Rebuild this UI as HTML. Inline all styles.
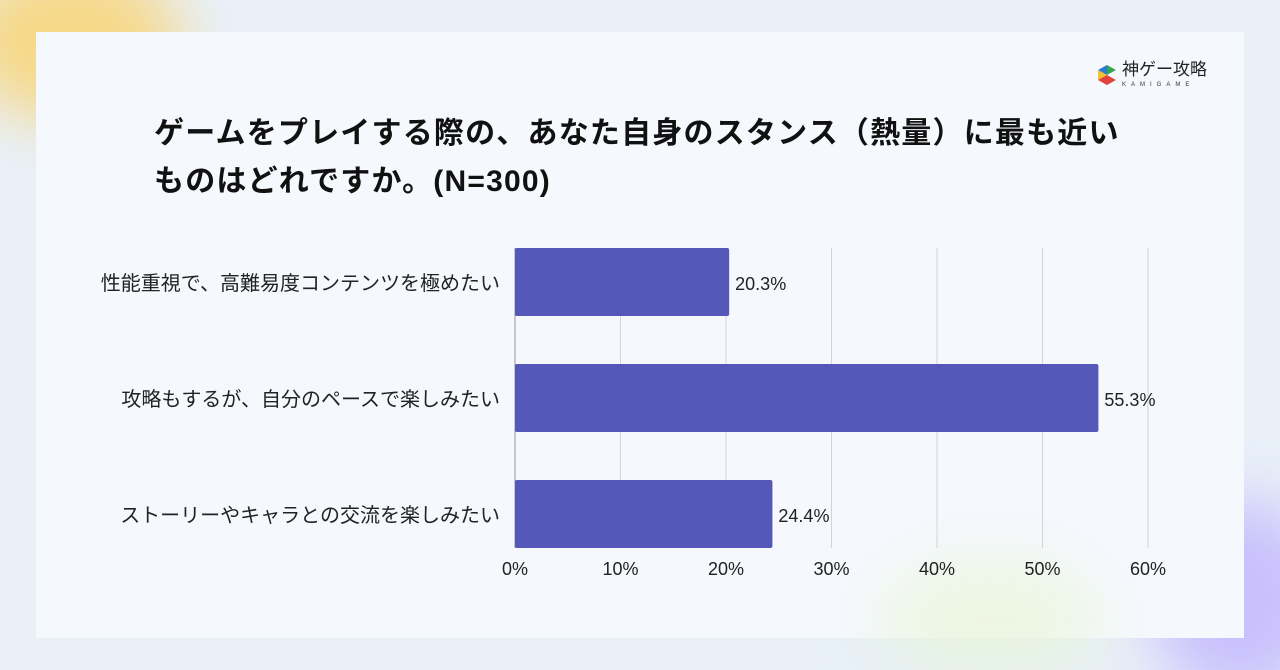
<!DOCTYPE html>
<html><head><meta charset="utf-8"><style>
html,body{margin:0;width:1280px;height:670px;overflow:hidden}
body{background:#e9f0f8;font-family:"Liberation Sans","Noto Sans CJK JP",sans-serif;position:relative}
.blob{position:absolute;border-radius:50%;filter:blur(30px)}
#card{position:absolute;left:36px;top:32px;width:1208px;height:606px;background:#f5f8fd}
#title{position:absolute;left:154px;top:110px;font-size:30px;letter-spacing:1.2px;font-weight:bold;color:#111;line-height:48px;white-space:nowrap}
</style></head><body>
<div class="blob" style="left:-40px;top:-40px;width:220px;height:160px;background:rgba(255,200,60,0.6)"></div>
<div class="blob" style="left:1150px;top:500px;width:180px;height:200px;background:rgba(180,160,255,0.6)"></div>
<div id="card"></div>
<div class="blob" style="left:880px;top:560px;width:220px;height:120px;background:rgba(230,245,200,0.5)"></div>
<div style="position:absolute;left:1098px;top:62px;width:120px;height:30px">
<svg width="18" height="20" style="position:absolute;left:0;top:3px"><polygon points="9,0 18,5 9,10" fill="#2fa84f"/><polygon points="9,0 0,5 9,10" fill="#2b7bd6"/><polygon points="0,5 9,10 0,15" fill="#f2c12e"/><polygon points="9,10 18,15 9,20 0,15" fill="#e0443c"/></svg>
<div style="position:absolute;left:24px;top:-2px;font-size:17px;line-height:20px;color:#222;white-space:nowrap">神ゲー攻略</div>
<div style="position:absolute;left:24px;top:20px;font-size:6px;line-height:7px;letter-spacing:5px;color:#333;white-space:nowrap">KAMIGAME</div>
</div>
<div id="title">ゲームをプレイする際の、あなた自身のスタンス（熱量）に最も近い<br>ものはどれですか。(N=300)</div>
<svg id="chart" width="1280" height="670" style="position:absolute;left:0;top:0"></svg>
<script>
const categories=["性能重視で、高難易度コンテンツを極めたい","攻略もするが、自分のペースで楽しみたい","ストーリーやキャラとの交流を楽しみたい"];
const values=[20.3,55.3,24.4];
const ticks=[0,10,20,30,40,50,60];
const svg=document.getElementById('chart');const NS='http://www.w3.org/2000/svg';
const x=v=>515+v*(1148-515)/60;
const yTop=i=>248+i*116;
function mk(t,a,p){const e=document.createElementNS(NS,t);for(const k in a)e.setAttribute(k,a[k]);(p||svg).appendChild(e);return e;}
ticks.forEach(t=>{
 const l=mk('line',{x1:x(t),x2:x(t),y1:248,y2:548,stroke:t===0?'#999':'#d4d4d4','stroke-width':1});
 
 
 const tx=mk('text',{x:x(t),y:575,'text-anchor':'middle','font-size':18,fill:'#222','font-family':'Liberation Sans, sans-serif'});
 tx.textContent=t+'%';
 
 
});
categories.forEach((c,i)=>{
 const r=mk('rect',{x:x(0),y:yTop(i),width:x(values[i])-x(0),height:68,fill:'#5558b8',rx:2});
 
 
 const v=mk('text',{x:x(values[i])+6,y:yTop(i)+42,'font-size':18,fill:'#222','font-family':'Liberation Sans, sans-serif'});
 v.textContent=values[i].toFixed(1)+'%';
 
 
 const cl=mk('text',{x:500,y:yTop(i)+42,'text-anchor':'end','font-size':20,fill:'#222','font-family':'Liberation Sans, Noto Sans CJK JP, sans-serif'});
 cl.textContent=c;
 
 
});
</script>
</body></html>
